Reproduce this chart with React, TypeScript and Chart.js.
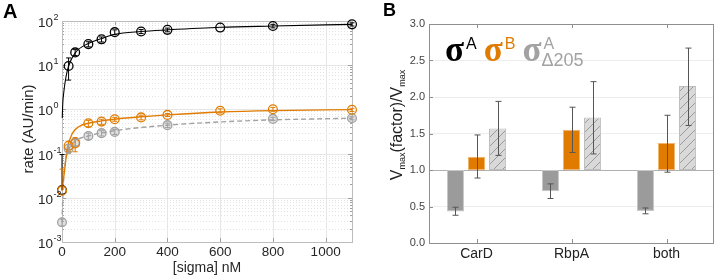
import React, { useEffect, useRef } from "react";
import { Chart, registerables } from "chart.js";
Chart.register(...registerables);

const SANS = '"Liberation Sans", Arial, Helvetica, sans-serif';
const SERIF = '"Liberation Serif", "Times New Roman", serif';
const ORANGE = "#e07b00";
const GRAY = "#a2a2a2";

// ---------- Panel A data ----------
const sigmaConc = [0, 25, 50, 100, 150, 200, 300, 400, 600, 800, 1100];
const rateSigmaA = [0.015, 9.6, 19.5, 30, 38.5, 56, 58, 63, 71, 77, 84];
const errSigmaA = [0.08, 5, 3, 4, 5, 7, 6, 6, 0, 7, 7];
const rateSigmaB = [0.0145, 0.15, 0.17, 0.485, 0.53, 0.6, 0.66, 0.75, 0.93, 1.01, 0.98];
const errSigmaB = [0.03, 0.04, 0.06, 0.08, 0.07, 0.06, 0.08, 0.06, 0.1, 0.1, 0.08];
const deltaConc = [0, 25, 50, 100, 150, 200, 400, 800, 1100];
const rateDelta = [0.0028, 0.13, 0.18, 0.25, 0.29, 0.31, 0.44, 0.61, 0.63];
const errDelta = [0.0005, 0.03, 0.03, 0.04, 0.04, 0.04, 0.05, 0.05, 0.05];

const fitConcA = [1, 3, 7, 14, 25, 50, 100, 150, 200, 300, 400, 600, 800, 1100];
const fitSigmaA = [0.64, 1.4, 2.5, 5, 9.6, 19, 31, 40, 50, 58, 63, 72, 77, 84];
const fitConcB = [0, 5, 10, 20, 40, 65, 100, 150, 200, 300, 400, 600, 800, 1100];
const fitSigmaB = [0.0145, 0.025, 0.043, 0.13, 0.29, 0.41, 0.485, 0.55, 0.6, 0.68, 0.75, 0.87, 0.94, 0.99];
const fitConcD = [0, 5, 12, 25, 50, 100, 200, 400, 600, 800, 1100];
const fitDelta = [0.0028, 0.02, 0.06, 0.12, 0.19, 0.25, 0.33, 0.44, 0.52, 0.58, 0.63];

const rateTicks = [1e-3, 1e-2, 1e-1, 1, 10, 100];
const concTicks = [0, 200, 400, 600, 800, 1000];

// ---------- Panel B data ----------
const factors = ["CarD", "RbpA", "both"];
const vmaxSigmaA = [0.43, 0.71, 0.44];
const loSigmaA = [0.38, 0.61, 0.4];
const hiSigmaA = [0.49, 0.81, 0.48];
const vmaxSigmaB = [1.18, 1.55, 1.37];
const loSigmaB = [0.89, 1.24, 0.97];
const hiSigmaB = [1.48, 1.86, 1.75];
const vmaxDelta = [1.57, 1.72, 2.15];
const loDelta = [1.2, 1.22, 1.61];
const hiDelta = [1.94, 2.21, 2.67];
const ratioTicks = [0, 0.5, 1, 1.5, 2, 2.5, 3];
const baseline = 1;

const pts = (xs: number[], ys: number[]) => xs.map((x, i) => ({ x, y: ys[i] }));

const panelAPlugin = {
  id: "panelA",
  beforeDatasetsDraw(chart: any) {
    const { ctx, chartArea, scales } = chart;
    const { left, right, top, bottom } = chartArea;
    const xs = scales.x, ys = scales.y;
    ctx.save();
    ctx.strokeStyle = "#e3e3e3";
    ctx.lineWidth = 1;
    ctx.setLineDash([1, 2]);
    for (let d = 0; d < rateTicks.length - 1; d++) {
      for (let m = 2; m <= 9; m++) {
        const py = Math.round(ys.getPixelForValue(rateTicks[d] * m)) + 0.5;
        ctx.beginPath(); ctx.moveTo(left, py); ctx.lineTo(right, py); ctx.stroke();
      }
    }
    ctx.setLineDash([]);
    ctx.strokeStyle = "#e6e6e6";
    for (const v of rateTicks) {
      const py = Math.round(ys.getPixelForValue(v)) + 0.5;
      ctx.beginPath(); ctx.moveTo(left, py); ctx.lineTo(right, py); ctx.stroke();
    }
    for (const v of concTicks) {
      if (v === 0) continue;
      const px = Math.round(xs.getPixelForValue(v)) + 0.5;
      ctx.beginPath(); ctx.moveTo(px, top); ctx.lineTo(px, bottom); ctx.stroke();
    }
    ctx.strokeStyle = "#a0a0a0";
    for (let d = 0; d < rateTicks.length; d++) {
      const lim = d === rateTicks.length - 1 ? 1 : 9;
      for (let m = 1; m <= lim; m++) {
        const py = Math.round(ys.getPixelForValue(rateTicks[d] * m)) + 0.5;
        const len = m === 1 ? 4 : 2;
        ctx.beginPath(); ctx.moveTo(left, py); ctx.lineTo(left + len, py); ctx.stroke();
        ctx.beginPath(); ctx.moveTo(right, py); ctx.lineTo(right - len, py); ctx.stroke();
      }
    }
    for (const v of concTicks) {
      const px = Math.round(xs.getPixelForValue(v)) + 0.5;
      ctx.beginPath(); ctx.moveTo(px, bottom); ctx.lineTo(px, bottom - 4); ctx.stroke();
      ctx.beginPath(); ctx.moveTo(px, top); ctx.lineTo(px, top + 4); ctx.stroke();
    }
    ctx.strokeStyle = "#bdbdbd";
    ctx.strokeRect(Math.round(left) + 0.5, Math.round(top) + 0.5, Math.round(right - left), Math.round(bottom - top));
    ctx.restore();
  },
  afterDatasetsDraw(chart: any) {
    const { ctx, scales } = chart;
    const xs = scales.x, ys = scales.y;
    ctx.save();
    chart.data.datasets.forEach((ds: any) => {
      if (!ds.errors) return;
      ctx.strokeStyle = ds.pointBorderColor;
      ctx.lineWidth = 1;
      ds.data.forEach((p: any, i: number) => {
        const e = ds.errors[i];
        if (!e) return;
        const px = xs.getPixelForValue(p.x);
        const pHi = ys.getPixelForValue(p.y + e);
        const lo = p.y - e;
        const pLo = lo > 0 ? ys.getPixelForValue(lo) : ys.getPixelForValue(p.y);
        ctx.beginPath(); ctx.moveTo(px, pHi); ctx.lineTo(px, pLo); ctx.stroke();
        ctx.beginPath(); ctx.moveTo(px - 2.5, pHi); ctx.lineTo(px + 2.5, pHi); ctx.stroke();
        if (lo > 0) { ctx.beginPath(); ctx.moveTo(px - 2.5, pLo); ctx.lineTo(px + 2.5, pLo); ctx.stroke(); }
      });
    });
    ctx.restore();
  },
  afterDraw(chart: any) {
    const { ctx, scales, chartArea } = chart;
    const ys = scales.y;
    ctx.save();
    ctx.fillStyle = "#262626";
    for (const v of rateTicks) {
      const py = ys.getPixelForValue(v);
      const exp = String(Math.round(Math.log10(v)));
      ctx.font = `13.5px ${SANS}`;
      ctx.textAlign = "right";
      ctx.textBaseline = "alphabetic";
      ctx.fillText("10", 53, py + 6);
      ctx.font = `9px ${SANS}`;
      ctx.textAlign = "left";
      ctx.fillText(exp, 53.5, py - 1);
    }
    ctx.font = `14px ${SANS}`;
    ctx.textAlign = "center";
    ctx.textBaseline = "middle";
    ctx.fillText("[sigma] nM", (chartArea.left + chartArea.right) / 2, 268);
    ctx.save();
    ctx.translate(29, 129);
    ctx.rotate(-Math.PI / 2);
    ctx.font = `15px ${SANS}`;
    ctx.fillText("rate (AU/min)", 0, 0);
    ctx.restore();
    ctx.fillStyle = "#000";
    ctx.font = `bold 20px ${SANS}`;
    ctx.textAlign = "left";
    ctx.textBaseline = "alphabetic";
    ctx.fillText("A", 3, 18);
    ctx.restore();
  },
};

const panelBPlugin = {
  id: "panelB",
  afterDatasetsDraw(chart: any) {
    const { ctx, scales } = chart;
    const ys = scales.y;
    ctx.save();
    ctx.strokeStyle = "#555";
    ctx.lineWidth = 1;
    chart.data.datasets.forEach((ds: any, di: number) => {
      const meta = chart.getDatasetMeta(di);
      meta.data.forEach((bar: any, i: number) => {
        const px = Math.round(bar.x) + 0.5;
        const pHi = ys.getPixelForValue(ds.hi[i]);
        const pLo = ys.getPixelForValue(ds.lo[i]);
        ctx.beginPath(); ctx.moveTo(px, pHi); ctx.lineTo(px, pLo); ctx.stroke();
        ctx.beginPath(); ctx.moveTo(px - 3, pHi); ctx.lineTo(px + 3, pHi); ctx.stroke();
        ctx.beginPath(); ctx.moveTo(px - 3, pLo); ctx.lineTo(px + 3, pLo); ctx.stroke();
      });
    });
    ctx.restore();
  },
  afterDraw(chart: any) {
    const { ctx, scales, chartArea } = chart;
    const { left, right, top, bottom } = chartArea;
    const xs = scales.x, ys = scales.y;
    ctx.save();
    ctx.strokeStyle = "#8f8f8f";
    ctx.lineWidth = 1;
    ctx.strokeRect(Math.round(left) + 0.5, Math.round(top) + 0.5, Math.round(right - left) - 1, Math.round(bottom - top));
    for (const v of ratioTicks) {
      const py = Math.round(ys.getPixelForValue(v)) + 0.5;
      ctx.beginPath(); ctx.moveTo(left, py); ctx.lineTo(left + 4, py); ctx.stroke();
    }
    factors.forEach((_, i) => {
      const px = Math.round(xs.getPixelForValue(i)) + 0.5;
      ctx.beginPath(); ctx.moveTo(px, bottom); ctx.lineTo(px, bottom - 4); ctx.stroke();
      ctx.beginPath(); ctx.moveTo(px, top); ctx.lineTo(px, top + 4); ctx.stroke();
    });
    ctx.fillStyle = "#222";
    const big = `16px ${SANS}`, small = `9px ${SANS}`;
    const parts: [string, string, number][] = [
      ["V", big, 0], ["max", small, 3], ["(factor)/V", big, 0], ["max", small, 3],
    ];
    let total = 0;
    parts.forEach(([t, f]) => { ctx.font = f; total += ctx.measureText(t).width; });
    ctx.save();
    ctx.translate(45, 125);
    ctx.rotate(-Math.PI / 2);
    ctx.textAlign = "left";
    ctx.textBaseline = "alphabetic";
    let cx = -total / 2;
    parts.forEach(([t, f, dy]) => { ctx.font = f; ctx.fillText(t, cx, dy); cx += ctx.measureText(t).width; });
    ctx.restore();
    const sig = `bold 35px ${SERIF}`, sup = `16px ${SANS}`;
    const legend: [string, string, string][] = [
      ["#000", "A", ""], [ORANGE, "B", ""], [GRAY, "A", "\u0394205"],
    ];
    let lx = 88;
    ctx.textAlign = "left";
    ctx.textBaseline = "alphabetic";
    legend.forEach(([col, s, sub]) => {
      ctx.fillStyle = col;
      ctx.font = sig;
      ctx.fillText("\u03c3", lx, 61);
      lx += ctx.measureText("\u03c3").width + 2;
      ctx.font = sup;
      ctx.fillText(s, lx, 49);
      let w = ctx.measureText(s).width;
      if (sub) {
        ctx.font = `18px ${SANS}`;
        ctx.fillText(sub, lx - 2, 66);
        w = Math.max(w, ctx.measureText(sub).width);
      }
      lx += w + 7;
    });
    ctx.fillStyle = "#000";
    ctx.font = `bold 18px ${SANS}`;
    ctx.fillText("B", 26, 16);
    ctx.restore();
  },
};

export default function App() {
  const refA = useRef<HTMLCanvasElement>(null);
  const refB = useRef<HTMLCanvasElement>(null);
  useEffect(() => {
    const tile = document.createElement("canvas");
    tile.width = 9; tile.height = 9;
    const tc = tile.getContext("2d")!;
    tc.fillStyle = "#d9d9d9";
    tc.fillRect(0, 0, 9, 9);
    tc.strokeStyle = "#8a8a8a";
    tc.lineWidth = 0.8;
    tc.beginPath();
    tc.moveTo(0, 9); tc.lineTo(9, 0);
    tc.moveTo(-1, 1); tc.lineTo(1, -1);
    tc.moveTo(8, 10); tc.lineTo(10, 8);
    tc.stroke();
    const hatch = refB.current!.getContext("2d")!.createPattern(tile, "repeat");

    const pointDs = (label: string, xs: number[], ys: number[], errs: number[], color: string, fillCol: string, order: number) => ({
      label, data: pts(xs, ys), showLine: false, pointRadius: 4.4, pointBorderWidth: 1.3,
      pointBorderColor: color, pointBackgroundColor: fillCol, borderColor: color, clip: false, errors: errs, order,
    });
    // lower "order" is drawn on top
    const a = new Chart(refA.current!, {
      type: "line",
      data: {
        datasets: [
          { label: "fit σA", data: pts(fitConcA, fitSigmaA), borderColor: "#000", borderWidth: 1.1, pointRadius: 0, cubicInterpolationMode: "monotone", clip: false, order: 6 } as any,
          { label: "fit σB", data: pts(fitConcB, fitSigmaB), borderColor: ORANGE, borderWidth: 1.4, pointRadius: 0, cubicInterpolationMode: "monotone", clip: false, order: 4 },
          { label: "fit σAΔ205", data: pts(fitConcD, fitDelta), borderColor: GRAY, borderDash: [5, 3], borderWidth: 1.4, pointRadius: 0, cubicInterpolationMode: "monotone", clip: false, order: 5 },
          pointDs("σA", sigmaConc, rateSigmaA, errSigmaA, "#000", "rgba(255,255,255,0)", 3),
          pointDs("σB", sigmaConc, rateSigmaB, errSigmaB, ORANGE, "rgba(255,255,255,0)", 1),
          pointDs("σAΔ205", deltaConc, rateDelta, errDelta, GRAY, "rgba(170,170,170,0.35)", 2),
        ],
      },
      options: {
        responsive: false,
        animation: false,
        layout: { padding: { top: 21, right: 6, left: 0, bottom: 0 } },
        plugins: { legend: { display: false }, tooltip: { enabled: false } },
        scales: {
          x: {
            type: "linear", min: 0, max: 1100,
            afterFit: (s: any) => { s.height = 36; },
            afterBuildTicks: (s: any) => { s.ticks = concTicks.map((v) => ({ value: v })); },
            grid: { display: false, drawTicks: false },
            border: { display: false },
            ticks: { font: { family: SANS, size: 13.5 }, color: "#262626", padding: 2, maxRotation: 0, callback: (v: any) => String(v) },
          },
          y: {
            type: "logarithmic", min: 1e-3, max: 1e2,
            afterFit: (s: any) => { s.width = 62; },
            grid: { display: false, drawTicks: false },
            border: { display: false },
            ticks: { display: false },
          },
        },
      } as any,
      plugins: [panelAPlugin],
    });

    const b = new Chart(refB.current!, {
      type: "bar",
      data: {
        labels: factors,
        datasets: [
          { label: "σA", data: vmaxSigmaA.map((v) => [baseline, v]), backgroundColor: "#9b9b9b", borderColor: "#c6c6c6", borderWidth: 1, borderSkipped: false, lo: loSigmaA, hi: hiSigmaA } as any,
          { label: "σB", data: vmaxSigmaB.map((v) => [baseline, v]), backgroundColor: ORANGE, borderColor: "#f2b46e", borderWidth: 1, borderSkipped: false, lo: loSigmaB, hi: hiSigmaB },
          { label: "σAΔ205", data: vmaxDelta.map((v) => [baseline, v]), backgroundColor: hatch, borderColor: "#bdbdbd", borderWidth: 1, borderSkipped: false, lo: loDelta, hi: hiDelta },
        ],
      },
      options: {
        responsive: false,
        animation: false,
        layout: { padding: { top: 24, right: 1, left: 0, bottom: 0 } },
        datasets: { bar: { categoryPercentage: 0.665, barPercentage: 0.81 } },
        plugins: { legend: { display: false }, tooltip: { enabled: false } },
        scales: {
          x: {
            afterFit: (s: any) => { s.height = 35; },
            grid: { display: false, drawTicks: false },
            border: { display: false },
            ticks: { font: { family: SANS, size: 14 }, color: "#222", padding: 3 },
          },
          y: {
            min: 0, max: 3,
            afterFit: (s: any) => { s.width = 72; },
            afterBuildTicks: (s: any) => { s.ticks = ratioTicks.map((v) => ({ value: v })); },
            grid: {
              drawTicks: false,
              color: (c: any) => (c.tick && c.tick.value === baseline ? "#b0b0b0" : c.tick && (c.tick.value === 0 || c.tick.value === 3) ? "rgba(0,0,0,0)" : "#ededed"),
            },
            border: { display: false },
            ticks: { font: { family: SANS, size: 11 }, color: "#444", padding: 4, callback: (v: any) => Number(v).toFixed(1) },
          },
        },
      } as any,
      plugins: [panelBPlugin],
    });
    return () => { a.destroy(); b.destroy(); };
  }, []);
  return (
    <div style={{ position: "absolute", left: 0, top: 0, width: 715, height: 278, background: "#fff" }}>
      <canvas ref={refA} width={358} height={278} style={{ position: "absolute", left: 0, top: 0 }} />
      <canvas ref={refB} width={358} height={278} style={{ position: "absolute", left: 357, top: 0 }} />
    </div>
  );
}
